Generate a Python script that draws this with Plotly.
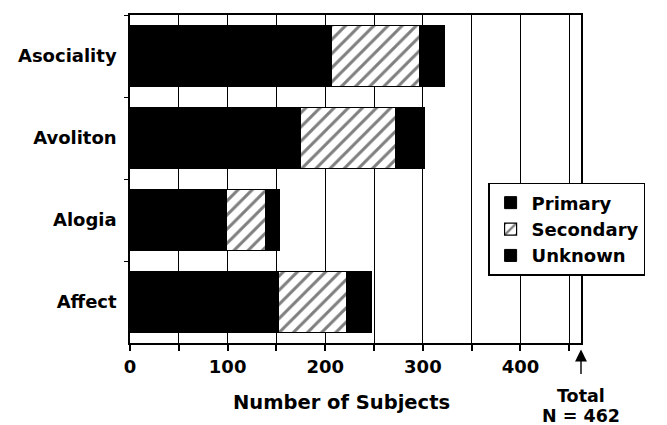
import plotly.graph_objects as go

categories = ["Asociality", "Avoliton", "Alogia", "Affect"]
primary = [206, 175, 99, 152]
secondary = [91, 97, 40, 70]
unknown = [25, 30, 14, 25]
x_ticks = [0, 100, 200, 300, 400]
total_n = 462

FONT = "DejaVu Sans"

fig = go.Figure()
fig.add_trace(go.Bar(
    y=categories, x=primary, orientation="h", name="Primary",
    marker=dict(color="black", line=dict(color="black", width=1)),
))
fig.add_trace(go.Bar(
    y=categories, x=secondary, orientation="h", name="Secondary",
    marker=dict(color="white", line=dict(color="black", width=1.2),
                pattern=dict(shape="/", fgcolor="black", bgcolor="white",
                             size=10, solidity=0.3)),
))
fig.add_trace(go.Bar(
    y=categories, x=unknown, orientation="h", name="Unknown",
    marker=dict(color="black", line=dict(color="black", width=1)),
))

fig.update_layout(
    barmode="stack", bargap=0.25,
    width=667, height=425,
    margin=dict(l=130, r=86, t=15, b=82, autoexpand=False),
    plot_bgcolor="white", paper_bgcolor="white",
    font=dict(family=FONT, size=18, color="black", weight="bold"),
    showlegend=True,
    legend=dict(x=0.794, y=0.488, xanchor="left", yanchor="top",
                traceorder="normal", bordercolor="black", borderwidth=1.5,
                bgcolor="white", font=dict(size=18), tracegroupgap=0,
                itemwidth=32),
)

fig.update_xaxes(
    range=[0, total_n], tickvals=x_ticks, ticktext=[str(v) for v in x_ticks],
    ticks="outside", ticklen=6, tickwidth=1.5, tickcolor="black",
    showgrid=True, gridcolor="black", gridwidth=1.2,
    minor=dict(dtick=50, tick0=0, ticks="outside", ticklen=6, tickwidth=1.5,
               tickcolor="black", showgrid=True, gridcolor="black", gridwidth=1.2),
    showline=True, linecolor="black", linewidth=2, mirror=True,
    zeroline=False, tickfont=dict(size=18),
)
fig.update_yaxes(
    type="category", autorange="reversed", tickson="boundaries",
    ticks="outside", ticklen=4, tickwidth=1.2, tickcolor="black",
    showgrid=False, showline=True, linecolor="black", linewidth=1.5, mirror=True,
    ticklabelstandoff=8, tickfont=dict(size=18),
)

fig.add_annotation(
    x=217, y=-0.18, xref="x", yref="paper", text="Number of Subjects",
    showarrow=False, font=dict(size=19.5), yanchor="middle",
)
fig.add_annotation(
    x=total_n, y=-0.02, xref="x", yref="paper", text="",
    showarrow=True, ax=0, ay=26, axref="pixel", ayref="pixel",
    arrowhead=2, arrowsize=1.7, arrowwidth=1.4, arrowcolor="black",
)
fig.add_annotation(
    x=total_n, y=-0.1616, xref="x", yref="paper", text="Total",
    showarrow=False, font=dict(size=17.5), yanchor="middle",
)
fig.add_annotation(
    x=total_n, y=-0.2226, xref="x", yref="paper", text="N = " + str(total_n),
    showarrow=False, font=dict(size=17.5), yanchor="middle",
)

fig.write_html("out.html", config={"displayModeBar": False},
               post_script="document.body.style.margin='0';document.body.style.padding='0';")
